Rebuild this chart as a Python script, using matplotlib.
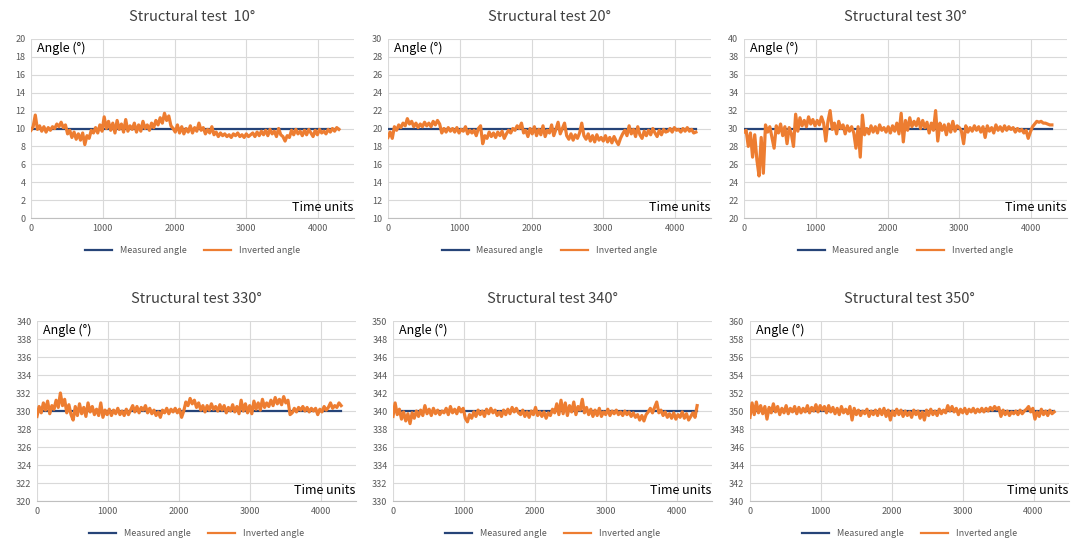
import numpy as np
import matplotlib as mpl
mpl.use("Agg")
import matplotlib.pyplot as plt

plt.rcParams["font.family"] = ["Noto Sans CJK SC", "DejaVu Sans"]

# time axis: one sample every 30 time units, 0 .. 4290
time_units = np.arange(0, 4300, 30)

titles = ["Structural test  10°", "Structural test 20°", "Structural test 30°",
          "Structural test 330°", "Structural test 340°", "Structural test 350°"]
measured = [10, 20, 30, 330, 340, 350]
y_ranges = [(0, 20), (10, 30), (20, 40), (320, 340), (330, 350), (340, 360)]

inv_10 = [
    9.8, 10.2, 11.5, 9.9, 10.3, 9.7, 10.2, 9.6, 10.1, 9.8,
    10.2, 10.0, 10.5, 10.2, 10.7, 10.1, 10.4, 9.4, 9.8, 9.0,
    9.6, 8.8, 9.4, 8.7, 9.5, 8.2, 9.2, 8.9, 9.8, 9.5,
    10.1, 9.5, 10.4, 9.7, 11.3, 10.0, 10.8, 9.8, 10.6, 9.5,
    10.9, 9.9, 10.5, 9.6, 11.0, 9.7, 10.3, 9.9, 10.6, 9.6,
    10.4, 9.7, 10.8, 10.0, 10.4, 9.8, 10.6, 10.1, 10.9, 10.4,
    11.2, 10.6, 11.7, 10.9, 11.4, 10.3, 10.0, 9.6, 10.4, 9.5,
    10.2, 9.4, 10.0, 9.6, 10.3, 9.5, 10.1, 9.7, 10.6, 9.8,
    10.1, 9.4, 9.9, 9.5, 10.2, 9.3, 9.6, 9.1, 9.5, 9.2,
    9.4, 9.1, 9.3, 9.0, 9.4, 9.2, 9.5, 9.1, 9.3, 9.0,
    9.4, 9.1, 9.3, 9.5, 9.1, 9.6, 9.2, 9.7, 9.3, 9.8,
    9.2, 9.9, 9.4, 9.7, 9.1, 10.0, 9.3, 9.1, 8.6, 9.2,
    9.0, 9.8, 9.3, 9.9, 9.4, 9.7, 9.2, 9.8, 9.3, 9.9,
    9.5, 9.1, 9.8, 9.3, 9.9, 9.5, 9.7, 9.4, 9.9, 9.6,
    10.0, 9.7, 10.1, 9.9,
]
inv_20 = [
    19.0, 19.6, 18.9, 20.2, 19.8, 20.4, 20.1, 20.6, 20.3, 21.1,
    20.5, 20.8, 20.2, 20.6, 20.1, 20.5, 20.2, 20.7, 20.3, 20.6,
    20.2, 20.8, 20.4, 20.9, 20.5, 19.5, 20.0, 19.6, 20.1, 19.7,
    20.0, 19.6, 20.1, 19.5, 19.9, 19.7, 20.2, 19.4, 19.8, 19.5,
    19.8, 19.2, 20.0, 20.3, 18.3, 19.2, 18.9, 19.6, 19.1, 19.5,
    19.0, 19.6, 19.2, 19.7, 18.9, 19.4, 19.8, 19.5, 20.0, 19.8,
    20.3, 20.0, 20.6, 19.5, 19.8, 19.1, 20.0, 19.4, 20.2, 19.2,
    19.9, 19.3, 20.3, 19.1, 19.8, 19.5, 20.4, 19.2, 19.9, 20.7,
    19.4, 20.0, 20.6, 19.2, 18.8, 19.4, 18.7, 19.3, 18.9, 19.5,
    20.6, 19.2, 18.8, 19.4, 18.6, 19.2, 18.5, 19.3, 18.7, 19.0,
    18.6, 19.2, 18.5, 19.0, 18.4, 19.1, 18.6, 18.2, 18.9, 19.4,
    19.8, 19.2, 20.3, 19.4, 19.9, 19.1, 20.2, 19.3, 18.9, 19.7,
    19.2, 19.8, 19.3, 20.0, 19.5, 19.1, 19.8, 19.3, 19.9, 19.6,
    19.7, 20.0, 19.6, 20.1, 19.8, 19.9, 19.6, 20.0, 19.7, 20.1,
    19.7, 19.9, 19.5, 19.6,
]
inv_30 = [
    29.6, 29.8, 28.0, 29.5, 26.8, 29.3, 26.5, 24.7, 29.0, 25.0,
    30.4, 29.6, 30.2, 29.0, 27.8, 30.3, 29.5, 30.5, 29.2, 30.2,
    28.3, 30.1, 29.4, 28.0, 31.6, 29.7, 31.2, 30.3, 30.9, 30.2,
    31.3, 30.5, 31.0, 30.3, 30.9, 30.4, 31.3, 30.6, 28.6, 30.8,
    32.0, 29.9, 30.6, 29.4, 30.8, 30.0, 30.4, 29.4, 30.3, 29.7,
    30.2, 29.5, 27.8, 30.2, 26.8, 31.5, 29.3, 30.0, 29.4, 30.3,
    29.6, 30.2, 29.5, 30.4, 29.8, 30.1, 29.6, 30.2, 29.5, 30.3,
    29.7, 30.6, 29.4, 31.7, 28.5, 30.9, 29.8, 31.2, 30.2, 30.8,
    30.3, 31.1, 30.0, 30.9, 30.1, 30.7, 29.5, 30.6, 29.8, 32.0,
    28.6, 30.6, 29.8, 30.4, 29.3, 30.5, 29.6, 30.8, 29.7, 30.3,
    30.1, 29.7, 28.3, 30.3, 29.6, 30.1, 29.7, 30.3, 29.8, 30.2,
    29.6, 30.2, 29.0, 30.3, 29.7, 30.1, 29.5, 30.4, 29.8, 30.2,
    29.7, 30.3, 29.8, 30.2, 29.9, 30.1, 29.6, 30.0, 29.7, 29.9,
    29.5, 29.8, 28.9, 29.6, 30.2, 30.5, 30.8, 30.7, 30.8, 30.6,
    30.6, 30.5, 30.4, 30.4,
]
inv_330 = [
    329.4, 330.5, 329.8, 330.9, 330.1, 331.1, 329.7, 330.6, 330.2, 331.2,
    330.4, 332.0, 330.6, 331.3, 329.8, 330.7, 329.6, 329.0, 330.5, 329.5,
    330.8, 329.7, 330.4, 329.4, 330.9, 329.9, 330.5, 329.6, 330.2, 329.5,
    330.9, 329.3, 330.1, 329.6, 330.2, 329.5, 330.1, 329.7, 330.3, 329.6,
    330.0, 329.5, 330.2, 329.6, 330.1, 330.6, 329.9, 330.5, 329.8, 330.4,
    330.1, 330.6, 329.8, 330.3, 329.7, 330.1, 329.5, 329.9, 329.3, 330.1,
    329.8, 330.3, 329.7, 330.2, 329.9, 330.3, 329.8, 330.2, 329.3, 330.0,
    331.0, 330.6, 331.4, 330.8, 331.2, 330.4, 330.9, 330.1, 330.6, 329.9,
    330.6, 330.1, 330.8, 330.2, 330.5, 330.0, 330.7, 330.1, 330.6, 329.8,
    330.4, 330.0, 330.7, 329.9, 330.5, 329.7, 331.2, 330.0, 330.8, 329.8,
    330.6, 329.7, 331.1, 330.2, 330.9, 330.1, 331.3, 330.4, 330.9, 330.5,
    331.2, 330.6, 331.5, 330.8, 331.3, 330.7, 331.6, 330.9, 331.2, 329.6,
    329.8, 330.3, 329.9, 330.4, 330.1, 330.5, 330.0, 330.4, 329.9, 330.3,
    330.0, 330.3, 329.6, 330.2, 329.9, 330.5, 330.1, 330.4, 330.9, 330.3,
    330.6, 330.4, 330.9, 330.6,
]
inv_340 = [
    339.4, 340.9, 339.6, 340.2, 339.1, 339.9, 338.9, 339.7, 338.6, 339.8,
    339.2, 340.0, 339.4, 340.1, 339.5, 340.6, 339.7, 340.2, 339.5, 340.3,
    339.7, 340.1, 339.6, 340.0, 339.8, 340.3, 339.6, 340.5, 339.8, 340.2,
    339.7, 340.4, 339.9, 340.3, 339.2, 338.8, 339.6, 339.2, 339.9, 339.4,
    340.1, 339.6, 340.0, 339.4, 340.2, 339.7, 340.3, 339.8, 340.1, 339.5,
    339.9, 339.4, 340.1, 339.6, 340.2, 339.7, 340.4, 339.9, 340.3, 339.8,
    339.6, 340.1, 339.4, 339.9, 339.3, 340.0, 339.6, 340.4, 339.5, 339.9,
    339.4, 339.9, 339.2, 339.8, 339.5, 340.2, 339.8, 340.8, 339.6, 341.2,
    339.7, 340.9, 339.5, 340.6, 339.9, 341.0, 339.6, 340.5, 340.1, 341.3,
    339.8, 340.4, 339.6, 340.2, 339.4, 340.1, 339.5, 340.3, 339.4, 339.9,
    339.6, 340.2, 339.5, 340.0, 339.7, 340.1, 339.6, 339.9, 339.5, 340.0,
    339.6, 339.9, 339.4, 339.8, 339.3, 339.6, 339.0, 339.5, 338.9, 339.6,
    339.9, 340.3, 339.8, 340.4, 341.0, 339.8, 340.1, 339.5, 339.9, 339.3,
    339.7, 339.2, 339.8, 339.1, 339.6, 339.3, 339.9, 339.2, 339.7, 339.0,
    339.4, 339.8, 339.3, 340.6,
]
inv_350 = [
    349.3, 350.9, 349.6, 351.0, 349.8, 350.6, 349.7, 350.5, 349.1, 350.4,
    349.8, 350.8, 349.9, 350.5, 349.6, 350.3, 349.8, 350.6, 349.7, 350.3,
    349.9, 350.5, 349.7, 350.4, 349.8, 350.3, 349.9, 350.6, 349.8, 350.4,
    350.0, 350.7, 349.9, 350.6, 350.1, 350.5, 349.8, 350.6, 349.9, 350.4,
    349.7, 350.3, 349.6, 350.5, 349.8, 350.2, 349.7, 350.5, 349.0, 350.3,
    349.6, 350.1, 349.5, 350.0, 349.7, 350.2, 349.4, 350.0, 349.6, 350.1,
    349.5, 350.2, 349.6, 350.3, 349.4, 350.1, 349.0, 350.0, 349.5, 350.2,
    349.6, 350.1, 349.4, 350.0, 349.5, 349.9, 349.3, 350.1, 349.6, 350.0,
    349.2, 349.9, 349.0, 350.1, 349.5, 350.2, 349.6, 350.0, 349.5, 350.2,
    349.7, 350.1, 349.8, 350.6, 350.0, 350.5, 349.9, 350.3, 349.6, 350.2,
    349.8, 350.3, 349.7, 350.2, 349.9, 350.3, 349.8, 350.2, 349.9, 350.3,
    349.9, 350.3, 350.0, 350.4, 350.1, 350.5, 350.2, 350.4, 349.4, 350.1,
    349.6, 350.0, 349.5, 349.9, 349.7, 350.0, 349.6, 350.1, 349.7, 350.0,
    350.2, 350.5, 349.9, 350.3, 349.1, 349.9, 349.4, 350.2, 349.6, 350.0,
    349.5, 350.1, 349.7, 349.9,
]
inverted = [inv_10, inv_20, inv_30, inv_330, inv_340, inv_350]

x_ticks = [0, 1000, 2000, 3000, 4000]

# axes rectangles in figure fractions (left, bottom, width, height)
rects = [
    (0.0289, 0.5985, 0.3013, 0.3297),
    (0.3619, 0.5985, 0.3013, 0.3297),
    (0.6940, 0.5985, 0.3013, 0.3297),
    (0.0345, 0.0773, 0.2976, 0.3315),
    (0.3666, 0.0773, 0.2976, 0.3315),
    (0.6996, 0.0773, 0.2976, 0.3315),
]

BLUE = "#264478"
ORANGE = "#ED7D31"
GRID = "#d9d9d9"
TICK = "#595959"

fig = plt.figure(figsize=(10.72, 5.43), dpi=100)

for i in range(6):
    ax = fig.add_axes(rects[i])
    lo, hi = y_ranges[i]
    ax.plot([time_units[0], time_units[-1]], [measured[i], measured[i]],
            color=BLUE, lw=1.6, label="Measured angle", zorder=2)
    ax.plot(time_units, inverted[i], color=ORANGE, lw=2.3,
            label="Inverted angle", zorder=3)

    ax.set_xlim(0, 4500)
    ax.set_ylim(lo, hi)
    ax.set_xticks(x_ticks)
    ax.set_yticks(np.arange(lo, hi + 1, 2))
    ax.grid(True, color=GRID, lw=0.8)
    ax.set_axisbelow(True)
    for s in ("top", "right", "left"):
        ax.spines[s].set_visible(False)
    ax.spines["bottom"].set_color("#bfbfbf")
    ax.tick_params(length=0, labelsize=6.5, labelcolor=TICK, pad=4)

    ax.set_title(titles[i], fontsize=10.5, color="#404040", pad=13)
    ax.text(0.02, 0.985, "Angle (°)", transform=ax.transAxes,
            ha="left", va="top", fontsize=9, color="black")
    ax.text(0.997, 0.02, "Time units", transform=ax.transAxes,
            ha="right", va="bottom", fontsize=9, color="black")
    leg = ax.legend(loc="upper center", bbox_to_anchor=(0.5, -0.11), ncol=2,
                    frameon=False, fontsize=6.5, handlelength=3.0,
                    columnspacing=2.0, labelcolor=TICK)
    for h in leg.get_lines():
        h.set_linewidth(1.6)

fig.savefig("out.png", dpi=100)
